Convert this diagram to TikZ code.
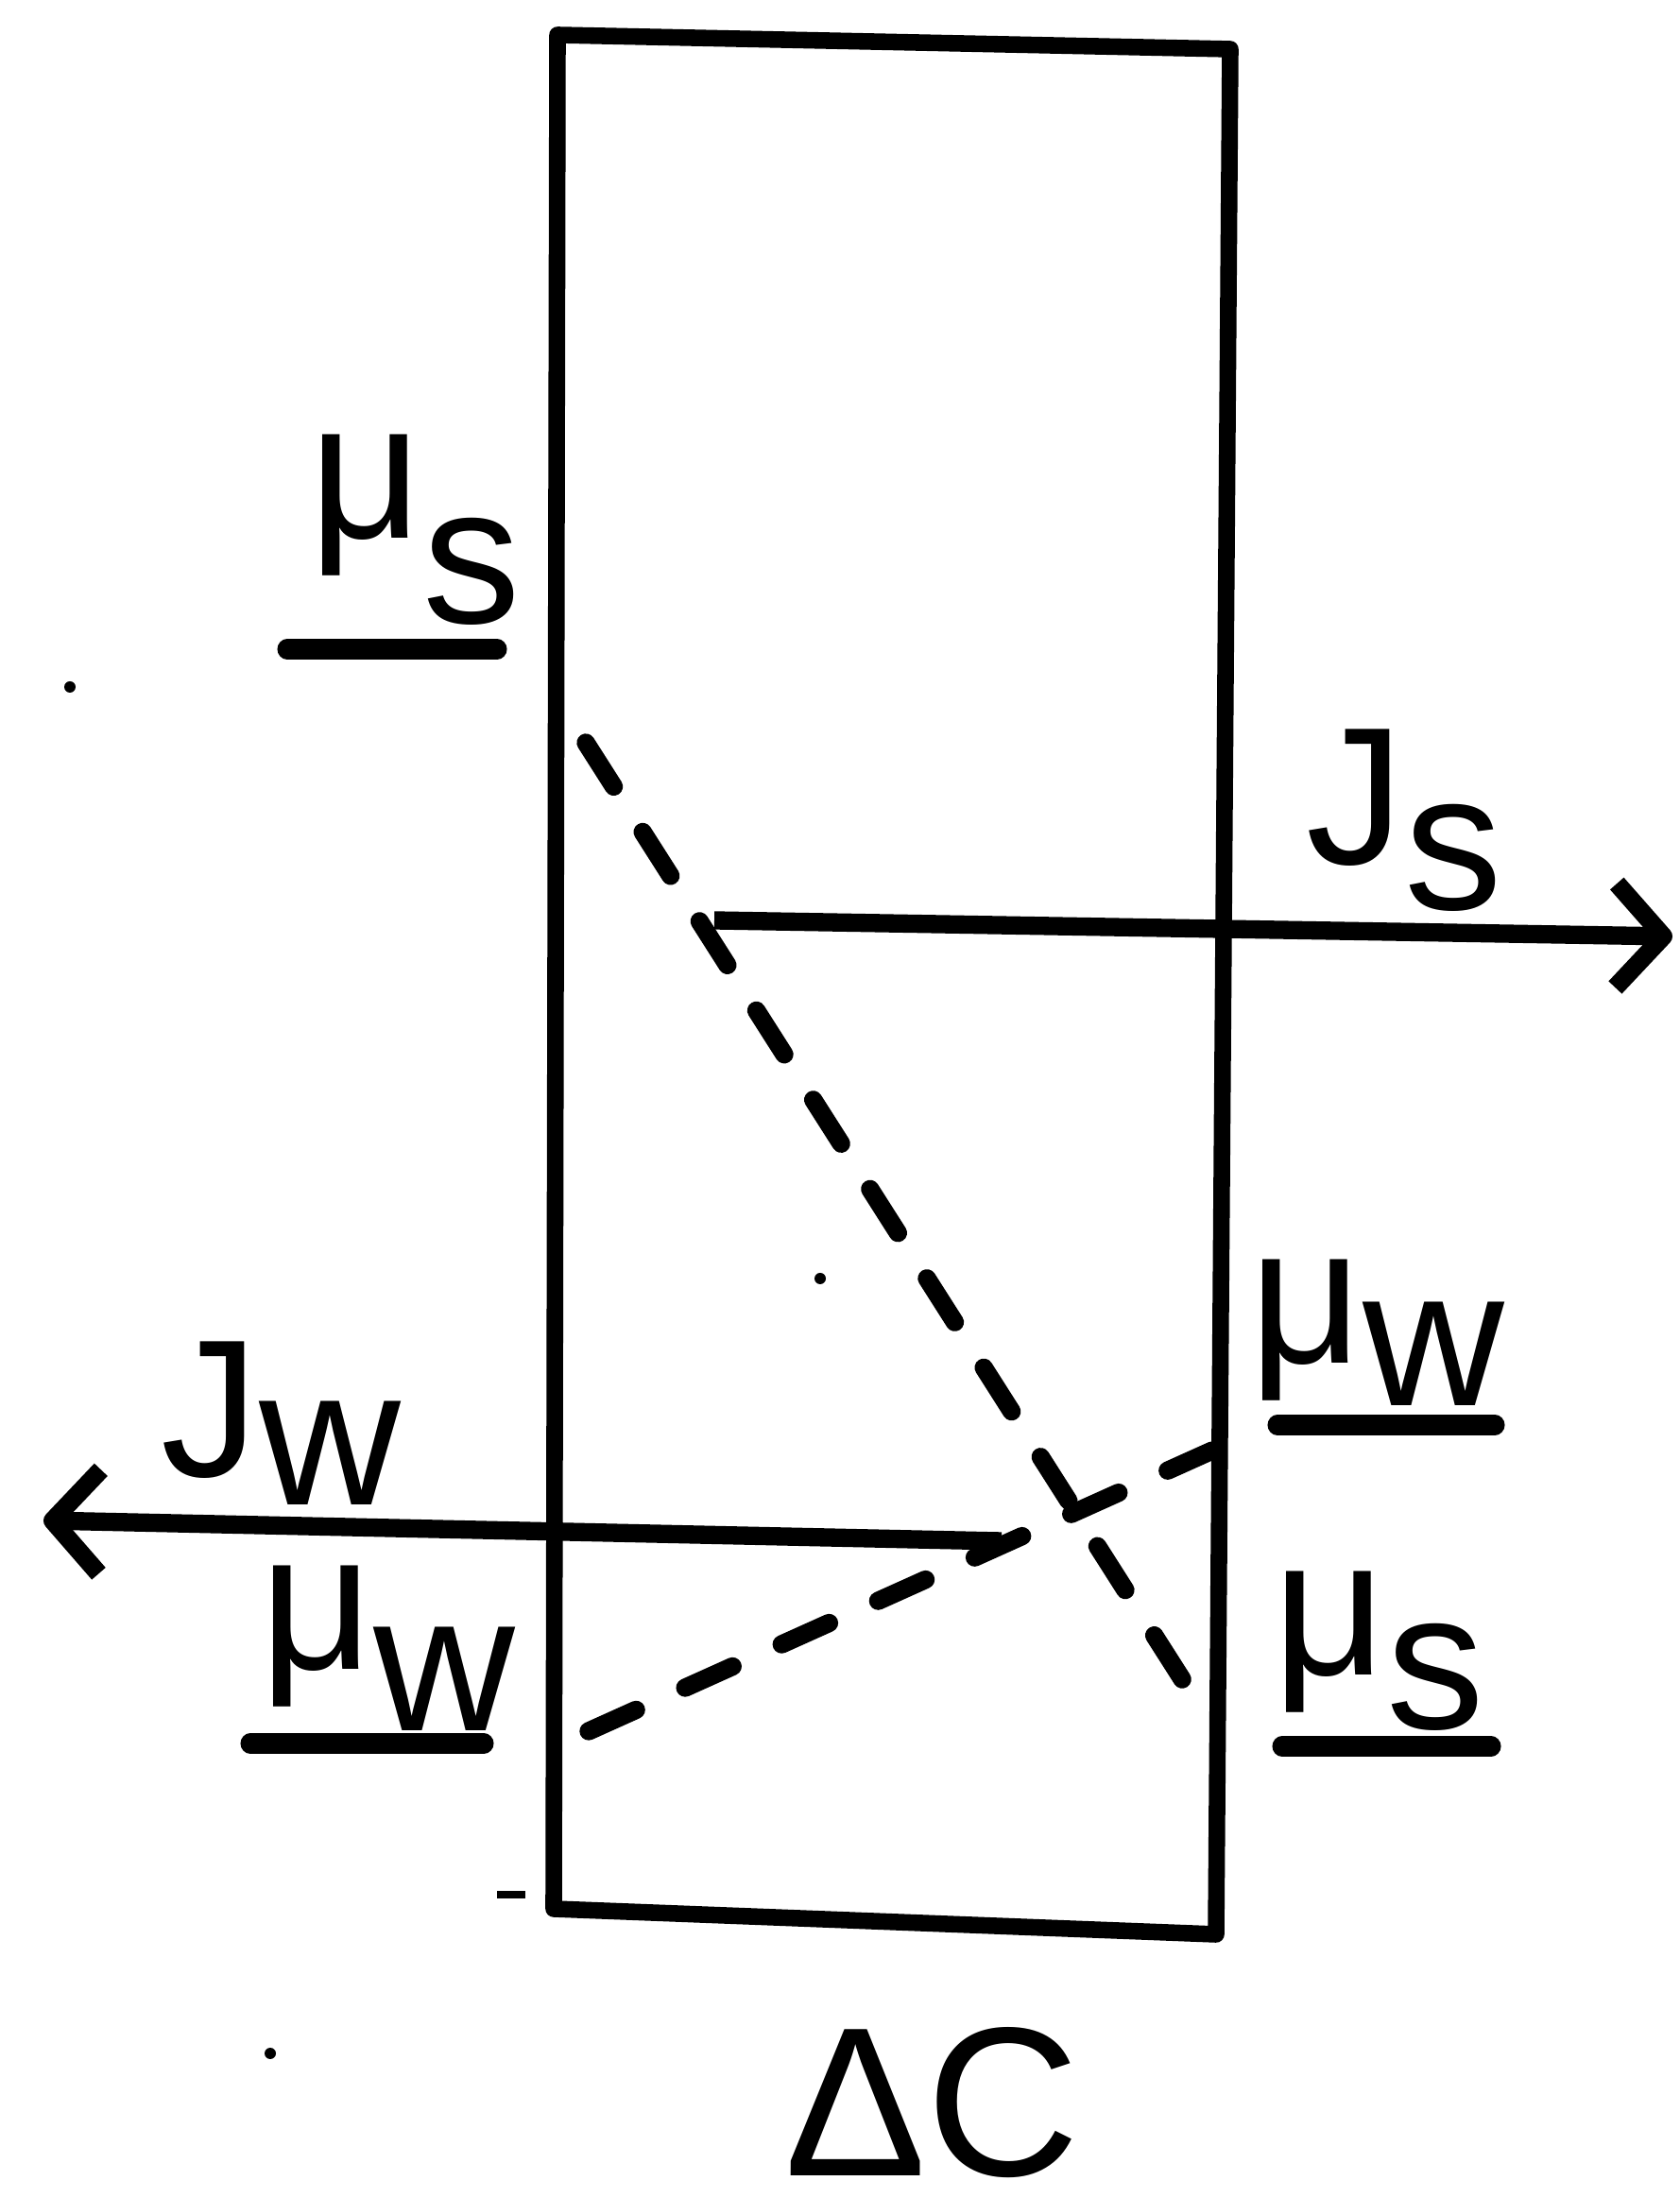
\documentclass[tikz,border=0pt]{standalone}
\usepackage{fontspec}
\setmainfont{Liberation Sans}
\usetikzlibrary{arrows.meta}

\newcommand{\lowered}[2][0.5cm]{\raisebox{-#1}{#2}}

\begin{document}
\begin{tikzpicture}[
  lab/.style={font=\fontsize{59}{64}\selectfont, inner sep=0pt, anchor=base west},
  big/.style={font=\fontsize{64}{70}\selectfont, inner sep=0pt, anchor=base west},
  wall/.style={line width=5pt, line join=round},
  flux/.style={line width=5.5pt, -{Straight Barb[length=5mm, width=11mm, line join=round]}},
  grad/.style={line width=5.5pt, dash pattern=on 5.5mm off 5.7mm, line cap=round},
  uline/.style={line width=6pt, line cap=round},
  speck/.style={circle, fill, inner sep=0pt, minimum size=1.2mm}]
\useasboundingbox (0,0) rectangle (17.78,23.26);
\coordinate (tl) at (5.90,22.89);
\coordinate (tr) at (13.02,22.74);
\coordinate (br) at (12.87,2.79);
\coordinate (bl) at (5.86,3.06);
\draw[wall] (tl) -- (tr) -- (br) -- (bl) -- cycle;
\coordinate (s1) at (6.20,15.40);
\coordinate (s2) at (12.53,5.46);
\coordinate (w1) at (6.23,4.94);
\coordinate (w2) at (12.83,7.91);
\draw[grad] (s1) -- (s2);
\draw[grad] (w1) -- (w2);
\coordinate (js0) at (7.56,13.52);
\coordinate (js1) at (17.70,13.35);
\coordinate (jw0) at (10.60,6.95);
\coordinate (jw1) at (0.46,7.17);
\draw[flux] (js0) -- (js1);
\draw[flux] (jw0) -- (jw1);
\node[lab] (muSl) at (3.27,17.56) {μ\lowered[0.90cm]{s}};
\node[lab] (Js) at (13.82,14.11) {J\lowered[0.48cm]{s}};
\node[lab] (Jw) at (1.70,7.63) {J\lowered[0.30cm]{w}};
\node[lab] (muWl) at (2.75,5.59) {μ\lowered[0.65cm]{w}};
\node[lab] (muWr) at (13.22,8.83) {μ\lowered[0.45cm]{w}};
\node[lab] (muSr) at (13.47,5.53) {μ\lowered[0.57cm]{s}};
\node[big] (dC) at (8.30,0.24) {ΔC};
\draw[uline] ([shift={(-0.23,-1.17)}]muSl.base west) -- ([shift={(1.99,-1.17)}]muSl.base west);
\draw[uline] ([shift={(-0.10,-0.78)}]muWl.base west) -- ([shift={(2.37,-0.78)}]muWl.base west);
\draw[uline] ([shift={(0.30,-0.65)}]muWr.base west) -- ([shift={(2.60,-0.65)}]muWr.base west);
\draw[uline] ([shift={(0.10,-0.75)}]muSr.base west) -- ([shift={(2.31,-0.75)}]muSr.base west);
\node[speck] (d1) at (0.74,15.99) {};
\node[speck] (d2) at (8.68,9.73) {};
\node[speck] (d3) at (2.86,1.53) {};
\draw[line width=2pt] (5.26,3.21) -- (5.56,3.21);
\end{tikzpicture}
\end{document}
